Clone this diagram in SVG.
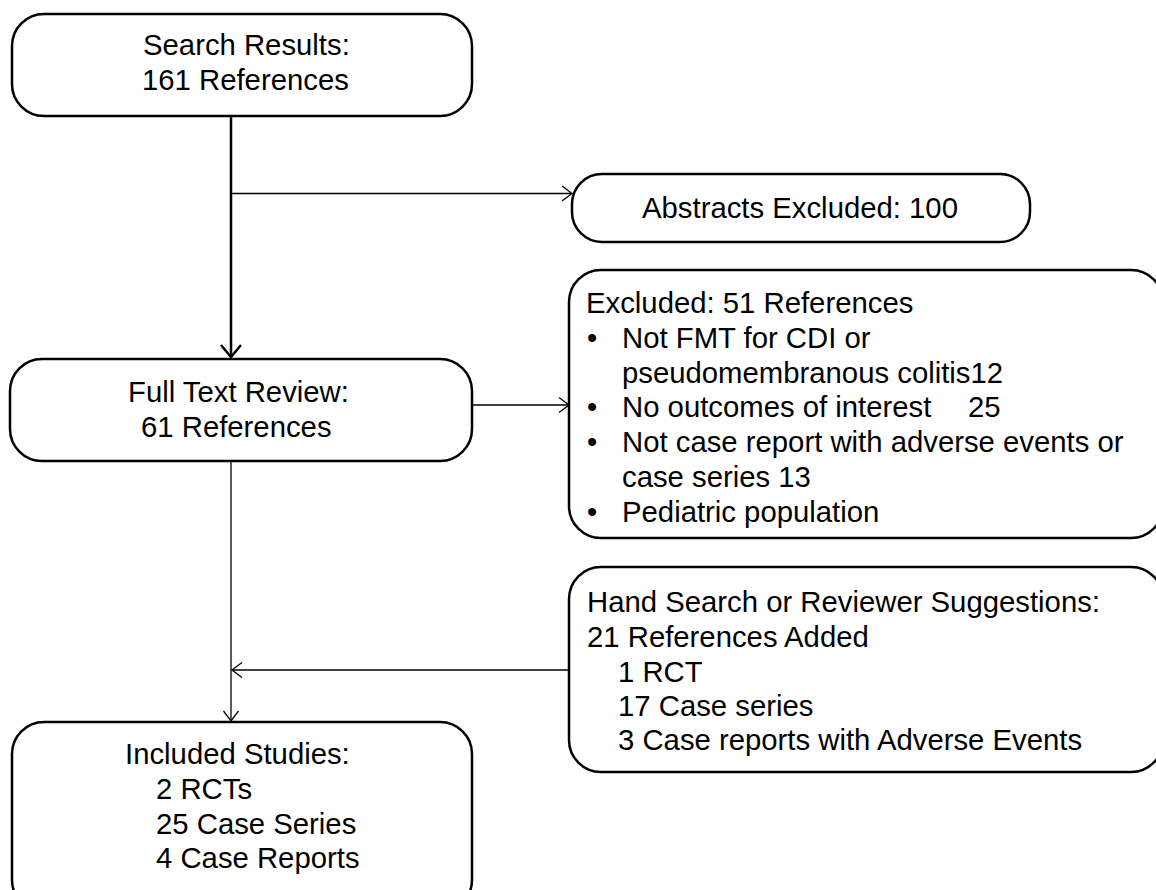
<svg xmlns="http://www.w3.org/2000/svg" width="1156" height="890" viewBox="0 0 1156 890">
<defs>
<style>
.box{fill:#fff;stroke:#000;stroke-width:2.5}
.t{font-family:"Liberation Sans",Arial,sans-serif;font-size:29.3px;fill:#000}
.c{text-anchor:middle}
.thin{fill:none;stroke:#000;stroke-width:1.3}
.thick{fill:none;stroke:#000;stroke-width:2.5}
</style>
</defs>
<rect width="1156" height="890" fill="#fff"/>
<g id="connectors">
<path class="thick" d="M231 116 V356"/>
<path class="thick" d="M221 345 L231 357 L241 345"/>
<path class="thin" d="M231 193.5 H571"/>
<path class="thin" d="M562 186 L572 193.5 L562 201"/>
<path class="thin" d="M472 405 H568"/>
<path class="thin" d="M559 397.5 L569 405 L559 412.5"/>
<path class="thin" d="M231 461 V721"/>
<path class="thin" d="M223.5 711 L231 721 L238.5 711"/>
<path class="thin" d="M569 670 H233"/>
<path class="thin" d="M242 662.5 L232 670 L242 677.5"/>
</g>
<g id="search">
<rect class="box" x="12" y="14" width="460" height="102" rx="32"/>
<text class="t" x="143" y="55">Search Results:</text>
<text class="t" x="142" y="90">161 References</text>
</g>
<g id="abstracts">
<rect class="box" x="572" y="174" width="458" height="68" rx="30"/>
<text class="t c" x="800" y="218">Abstracts Excluded: 100</text>
</g>
<g id="fulltext">
<rect class="box" x="10" y="359" width="462" height="102" rx="32"/>
<text class="t" x="128" y="402">Full Text Review:</text>
<text class="t" x="141" y="437">61 References</text>
</g>
<g id="excluded">
<rect class="box" x="569" y="270" width="594" height="268" rx="32"/>
<text class="t" x="586" y="313">Excluded: 51 References</text>
<text class="t" x="587" y="348">•</text>
<text class="t" x="622" y="348">Not FMT for CDI or</text>
<text class="t" x="622" y="383">pseudomembranous colitis12</text>
<text class="t" x="587" y="417">•</text>
<text class="t" x="622" y="417">No outcomes of interest<tspan x="968">25</tspan></text>
<text class="t" x="587" y="452">•</text>
<text class="t" x="622" y="452">Not case report with adverse events or</text>
<text class="t" x="622" y="487">case series 13</text>
<text class="t" x="587" y="522">•</text>
<text class="t" x="622" y="522">Pediatric population</text>
</g>
<g id="handsearch">
<rect class="box" x="569" y="567" width="594" height="205" rx="32"/>
<text class="t" x="587" y="612">Hand Search or Reviewer Suggestions:</text>
<text class="t" x="587" y="647">21 References Added</text>
<text class="t" x="618" y="682">1 RCT</text>
<text class="t" x="618" y="716">17 Case series</text>
<text class="t" x="618" y="750">3 Case reports with Adverse Events</text>
</g>
<g id="included">
<rect class="box" x="12" y="722" width="460" height="190" rx="32"/>
<text class="t" x="125" y="764">Included Studies:</text>
<text class="t" x="156" y="799">2 RCTs</text>
<text class="t" x="156" y="834">25 Case Series</text>
<text class="t" x="156" y="868">4 Case Reports</text>
</g>
</svg>
